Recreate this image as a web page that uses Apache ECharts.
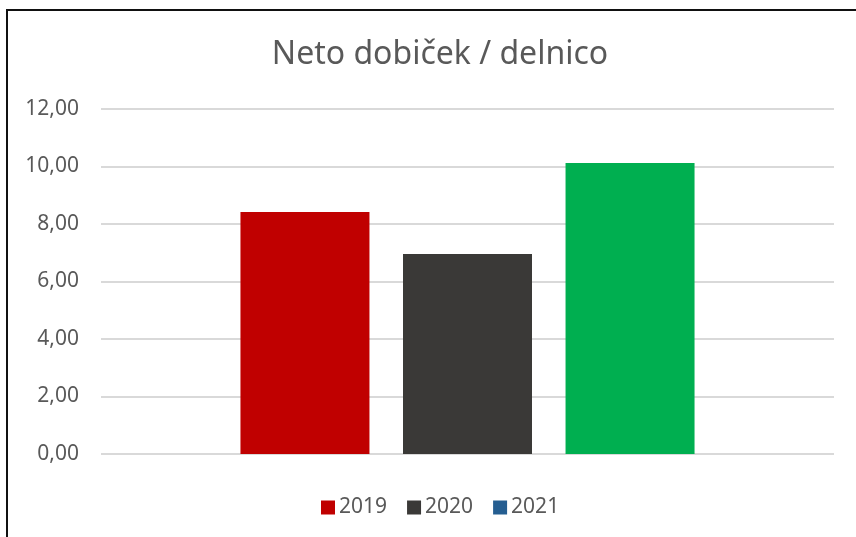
<!DOCTYPE html>
<html>
<head>
<meta charset="utf-8">
<script src="https://cdn.jsdelivr.net/npm/echarts@6/dist/echarts.min.js"></script>
<style>
  html, body { margin: 0; padding: 0; background: #fff; }
  #chart { position: absolute; left: 0; top: 0; width: 856px; height: 537px; }
  .frame { position: absolute; left: 6px; top: 9px; width: 860px; height: 540px;
           border-top: 2px solid #111; border-left: 2px solid #111; pointer-events: none; }
</style>
</head>
<body>
<div id="chart"></div>
<div class="frame"></div>
<script>
// values
const years = ['2019', '2020', '2021']
const values = [8.42, 6.96, 10.12]
const legendColors = ['#C00000', '#3A3937', '#255E91']
const barColors = ['#C00000', '#3A3937', '#00AF50']
const yTicks = [0, 2, 4, 6, 8, 10, 12]

const font = '"Noto Sans", sans-serif'
const chart = echarts.init(document.getElementById('chart'))

const series = years.map((y, i) => ({
  name: y,
  type: 'bar',
  barWidth: 129,
  barGap: '26%',
  itemStyle: { color: legendColors[i] },
  data: [{ value: values[i], itemStyle: { color: barColors[i] } }]
}))

chart.setOption({
  animation: false,
  title: {
    text: 'Neto dobiček / delnico',
    left: 435,
    textAlign: 'center',
    top: 34,
    textStyle: { fontFamily: font, fontSize: 32, fontWeight: 'normal', color: '#595959' }
  },
  legend: {
    data: years,
    left: 316,
    top: 492,
    itemWidth: 14,
    itemHeight: 14,
    itemGap: 20,
    icon: 'rect',
    textStyle: { fontFamily: font, fontSize: 21, color: '#595959', padding: [0, 0, 0, -1] }
  },
  grid: { left: 101, right: 22, top: 109, bottom: 83 },
  xAxis: {
    type: 'category',
    data: [''],
    axisLine: { show: false },
    axisTick: { show: false },
    axisLabel: { show: false }
  },
  yAxis: {
    type: 'value',
    min: yTicks[0],
    max: yTicks[yTicks.length - 1],
    interval: 2,
    axisLine: { show: false },
    axisTick: { show: false },
    splitLine: { lineStyle: { color: '#D9D9D9', width: 2 } },
    axisLabel: {
      margin: 22,
      fontFamily: font,
      fontSize: 21,
      color: '#595959',
      formatter: v => v.toFixed(2).replace('.', ',')
    }
  },
  series: series
})
</script>
</body>
</html>
